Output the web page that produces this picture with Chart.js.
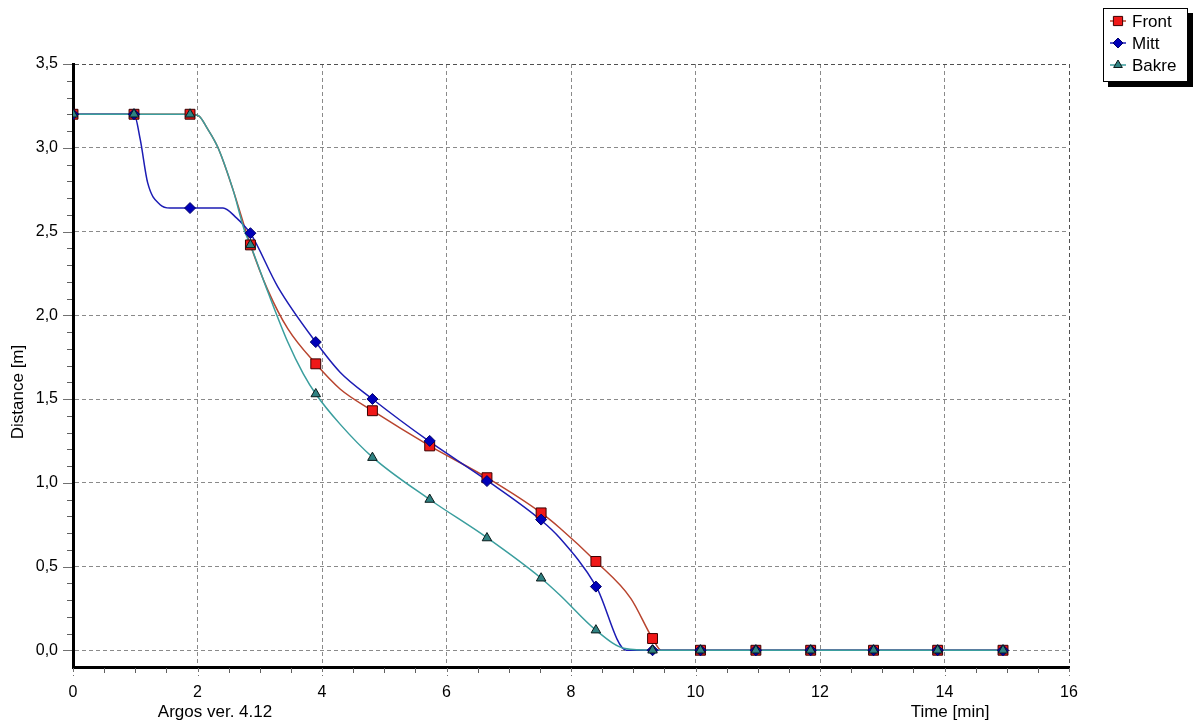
<!DOCTYPE html>
<html>
<head>
<meta charset="utf-8">
<script src="https://cdn.jsdelivr.net/npm/chart.js@4.4.1/dist/chart.umd.min.js"></script>
<style>
  html, body { margin: 0; padding: 0; background: #fff; }
  #wrap { position: relative; width: 1194px; height: 726px; }
</style>
</head>
<body>
<div id="wrap"><canvas id="c" width="1194" height="726"></canvas></div>
<script>
// Sample times (min) where the marker symbols sit
const markerTimes = [0, 0.98, 1.88, 2.85, 3.90, 4.81, 5.73, 6.65, 7.52, 8.40, 9.31, 10.08, 10.97, 11.85, 12.86, 13.89, 14.94];

// Distance (m) at the marker times
const frontMarks = [3.2, 3.2, 3.2, 2.42, 1.71, 1.43, 1.22, 1.03, 0.82, 0.53, 0.07, 0, 0, 0, 0, 0, 0];
const mittMarks  = [3.2, 3.2, 2.64, 2.49, 1.84, 1.50, 1.25, 1.01, 0.78, 0.38, 0, 0, 0, 0, 0, 0, 0];
const bakreMarks = [3.2, 3.2, 3.2, 2.42, 1.53, 1.15, 0.90, 0.67, 0.43, 0.12, 0, 0, 0, 0, 0, 0, 0];

// Logged curves [time, distance] between the marker samples
const frontCurve = [[0, 3.2], [0.98, 3.2], [1.88, 3.2], [2.02, 3.19], [2.15, 3.12], [2.33, 3.0], [2.57, 2.75],
  [2.85, 2.42], [3.13, 2.15], [3.45, 1.92], [3.90, 1.71], [4.29, 1.56], [4.81, 1.43], [5.73, 1.22],
  [6.65, 1.03], [7.52, 0.82], [7.82, 0.73], [8.40, 0.53], [8.96, 0.31], [9.31, 0.07], [9.45, 0],
  [10.08, 0], [12.86, 0], [14.94, 0]];
const mittCurve = [[0, 3.2], [0.98, 3.2], [1.08, 3.05], [1.2, 2.79], [1.4, 2.66], [1.56, 2.64], [1.88, 2.64],
  [2.41, 2.64], [2.63, 2.58], [2.76, 2.53], [2.85, 2.49], [3.29, 2.17], [3.90, 1.84], [4.29, 1.66],
  [4.81, 1.50], [5.73, 1.245], [6.65, 1.014], [7.52, 0.776], [7.82, 0.67], [8.40, 0.384], [8.89, 0],
  [9.31, 0], [12.86, 0], [14.94, 0]];
const bakreCurve = [[0, 3.2], [0.98, 3.2], [1.88, 3.2], [2.02, 3.19], [2.15, 3.12], [2.33, 3.0], [2.57, 2.75],
  [2.76, 2.5], [2.85, 2.42], [3.13, 2.14], [3.45, 1.84], [3.70, 1.65], [3.90, 1.53], [4.29, 1.35],
  [4.81, 1.153], [5.73, 0.90], [6.65, 0.672], [7.52, 0.43], [7.82, 0.33], [8.40, 0.12], [8.87, 0.01],
  [9.31, 0], [12.86, 0], [14.94, 0]];

const seriesNames = ['Front', 'Mitt', 'Bakre'];
const xTicks = [0, 2, 4, 6, 8, 10, 12, 14, 16];
const yTicks = [0, 0.5, 1.0, 1.5, 2.0, 2.5, 3.0, 3.5];

const FONT = "'Liberation Sans', Arial, sans-serif";
const styles = [
  { line: '#b8442e', fill: '#f01818', border: '#3a0000', pointStyle: 'rect', radius: 7 },
  { line: '#1c1cb4', fill: '#0000b8', border: '#00006a', pointStyle: 'rectRot', radius: 5.5 },
  { line: '#3a9e9e', fill: '#2f8282', border: '#0a1a1a', pointStyle: 'triangle', radius: 5.5 }
];

const toXY = arr => arr.map(([x, y]) => ({ x, y }));
const marks = [frontMarks, mittMarks, bakreMarks];
const curves = [frontCurve, mittCurve, bakreCurve];

const datasets = [];
// curves first (drawn underneath), then markers
curves.forEach((c, i) => {
  datasets.push({
    label: seriesNames[i] + ' curve',
    data: toXY(c),
    borderColor: styles[i].line,
    borderWidth: 1.5,
    pointRadius: 0,
    fill: false,
    cubicInterpolationMode: 'monotone',
    order: 10 - i
  });
});
marks.forEach((m, i) => {
  datasets.push({
    label: seriesNames[i],
    data: markerTimes.map((t, k) => ({ x: t, y: m[k] })),
    showLine: false,
    pointStyle: styles[i].pointStyle,
    pointRadius: styles[i].radius,
    pointBackgroundColor: styles[i].fill,
    pointBorderColor: styles[i].border,
    pointBorderWidth: 1,
    order: 3 - i
  });
});

const decorations = {
  id: 'decorations',
  afterDraw(chart) {
    const { ctx, scales: { x, y } } = chart;
    const area = chart.chartArea;
    ctx.save();
    // tick marks outside the axes
    ctx.lineWidth = 1;
    for (let v = 0; v <= 16.001; v += 0.5) {
      const px = Math.round(x.getPixelForValue(v)) + 0.5;
      const major = Math.abs(v / 2 - Math.round(v / 2)) < 1e-6;
      ctx.strokeStyle = major ? '#707070' : '#606060';
      ctx.setLineDash(major ? [4, 3] : []);
      ctx.beginPath();
      ctx.moveTo(px, area.bottom + 1);
      ctx.lineTo(px, area.bottom + (major ? 9 : 6));
      ctx.stroke();
    }
    for (let k = 0; k <= 35; k++) {
      const v = k / 10;
      const py = Math.round(y.getPixelForValue(v)) + 0.5;
      const major = k % 5 === 0;
      ctx.strokeStyle = major ? '#707070' : '#606060';
      ctx.setLineDash([]);
      ctx.beginPath();
      ctx.moveTo(area.left - 1, py);
      ctx.lineTo(area.left - (major ? 10 : 6), py);
      ctx.stroke();
    }
    ctx.setLineDash([]);

    // captions
    ctx.fillStyle = '#000';
    ctx.font = '17px ' + FONT;
    ctx.textAlign = 'center';
    ctx.textBaseline = 'middle';
    ctx.fillText('Argos ver. 4.12', 215, 712);
    ctx.fillText('Time [min]', 950, 712);
    ctx.save();
    ctx.translate(18, 392);
    ctx.rotate(-Math.PI / 2);
    ctx.fillText('Distance [m]', 0, 0);
    ctx.restore();

    // legend box with drop shadow
    const lx = 1103, ly = 8, lw = 85, lh = 74;
    ctx.fillStyle = '#000';
    ctx.fillRect(lx + 5, ly + 5, lw, lh);
    ctx.fillStyle = '#fff';
    ctx.fillRect(lx, ly, lw, lh);
    ctx.strokeStyle = '#000';
    ctx.lineWidth = 1;
    ctx.strokeRect(lx + 0.5, ly + 0.5, lw - 1, lh - 1);
    seriesNames.forEach((name, i) => {
      const cy = 21 + i * 22;
      const st = styles[i];
      ctx.strokeStyle = st.line;
      ctx.lineWidth = 1.5;
      ctx.beginPath();
      ctx.moveTo(1110, cy);
      ctx.lineTo(1126, cy);
      ctx.stroke();
      ctx.fillStyle = st.fill;
      ctx.strokeStyle = st.border;
      ctx.lineWidth = 1;
      Chart.helpers.drawPoint(ctx, { pointStyle: st.pointStyle, radius: st.radius - 0.5, rotation: 0, borderWidth: 1 }, 1118, cy);
      ctx.fillStyle = '#000';
      ctx.font = '17px ' + FONT;
      ctx.textAlign = 'left';
      ctx.textBaseline = 'middle';
      ctx.fillText(name, 1132, cy + 1);
    });
    ctx.restore();
  }
};

const gridColor = (edgeValue) => (c) => {
  if (!c.tick) return '#808080';
  if (c.tick.value === 0 && edgeValue === 16) return 'rgba(0,0,0,0)';
  return c.tick.value === edgeValue ? '#505050' : '#8a8a8a';
};

new Chart(document.getElementById('c'), {
  type: 'line',
  data: { datasets },
  options: {
    responsive: false,
    animation: false,
    devicePixelRatio: 1,
    layout: { padding: { left: 0, top: 64, right: 125, bottom: 0 } },
    plugins: { legend: { display: false }, tooltip: { enabled: false } },
    scales: {
      x: {
        type: 'linear',
        min: 0,
        max: 16,
        afterBuildTicks: s => { s.ticks = xTicks.map(v => ({ value: v })); },
        afterFit: s => { s.height = 59; },
        grid: { color: gridColor(16), lineWidth: 1, drawTicks: false },
        border: { display: true, color: '#000', width: 3, dash: [4, 3] },
        ticks: {
          padding: 16, color: '#000', maxRotation: 0, autoSkip: false,
          font: { family: FONT, size: 16 },
          callback: v => String(v)
        }
      },
      y: {
        type: 'linear',
        min: -0.1,
        max: 3.5,
        afterBuildTicks: s => { s.ticks = yTicks.map(v => ({ value: v })); },
        afterFit: s => { s.width = 73; },
        grid: { color: gridColor(3.5), lineWidth: 1, drawTicks: false },
        border: { display: true, color: '#000', width: 3, dash: [4, 3] },
        ticks: {
          padding: 15, color: '#000', autoSkip: false,
          font: { family: FONT, size: 16 },
          callback: v => v.toFixed(1).replace('.', ',')
        }
      }
    }
  },
  plugins: [decorations]
});
</script>
</body>
</html>
